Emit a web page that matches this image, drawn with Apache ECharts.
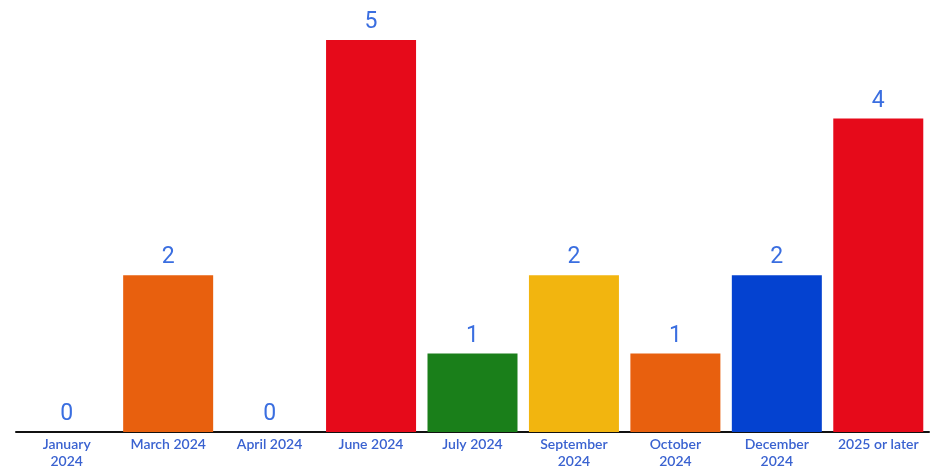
<!DOCTYPE html>
<html>
<head>
<meta charset="utf-8">
<script src="https://cdn.jsdelivr.net/npm/echarts@6/dist/echarts.min.js"></script>
<style>
  html, body { margin: 0; padding: 0; background: #fff; }
  #chart { width: 935px; height: 470px; }
</style>
</head>
<body>
<div id="chart"></div>
<script>
var categories = ["January\n2024", "March 2024", "April 2024", "June 2024", "July 2024",
  "September\n2024", "October\n2024", "December\n2024", "2025 or later"];
var counts = [0, 2, 0, 5, 1, 2, 1, 2, 4];
var barColors = ["#e8600e", "#e8600e", "#e8600e", "#e60a1a", "#1a7f1a",
  "#f2b50f", "#e8600e", "#0442d0", "#e60a1a"];

var myChart = echarts.init(document.getElementById("chart"));
var option = {
  animation: false,
  grid: { left: 16, right: 6, top: 40, bottom: 38 },
  xAxis: {
    type: "category",
    data: categories,
    axisLine: { lineStyle: { color: "#111", width: 2 } },
    axisTick: { show: false },
    axisLabel: {
      color: "#3a62d0",
      fontSize: 14,
      fontFamily: "Lato, sans-serif",
      fontWeight: 600,
      lineHeight: 17,
      margin: 4,
      interval: 0
    }
  },
  yAxis: {
    type: "value",
    min: 0,
    max: 5,
    show: false
  },
  series: [{
    type: "bar",
    barWidth: 90,
    data: counts.map(function (v, i) {
      return { value: v, itemStyle: { color: barColors[i] } };
    }),
    label: {
      show: true,
      position: "top",
      distance: 6,
      color: "#3a6ee0",
      fontSize: 23,
      fontFamily: "Roboto, sans-serif"
    }
  }]
};
myChart.setOption(option);
</script>
</body>
</html>
